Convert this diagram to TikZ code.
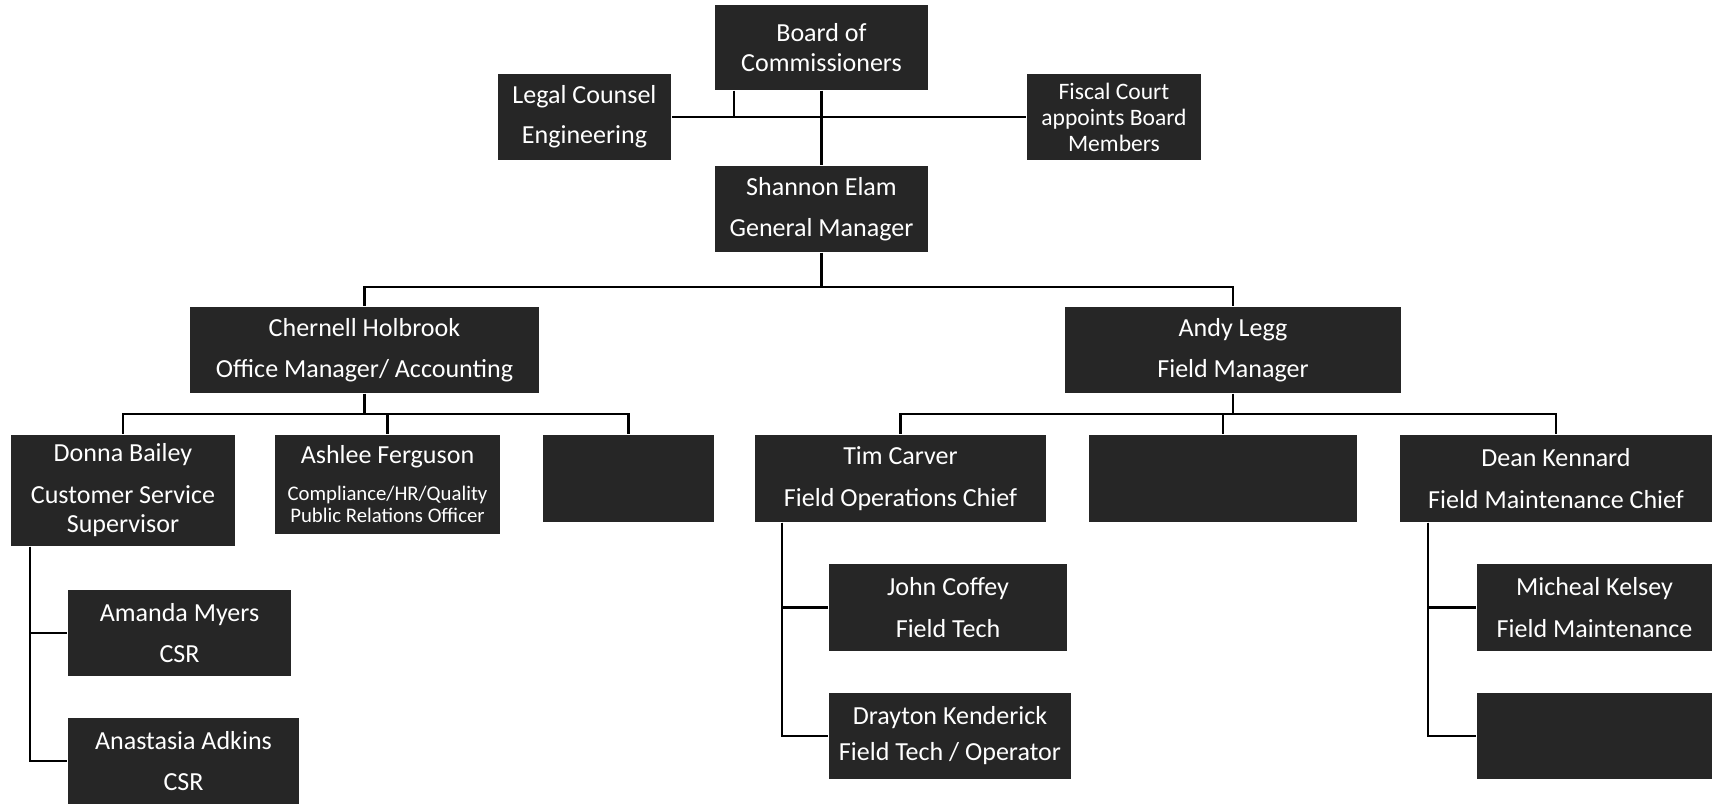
\documentclass[tikz,border=0pt]{standalone}
\usepackage{fontspec}
\setmainfont{Carlito}
\newcommand\smalltitle{\fontsize{5.9}{6.5}\selectfont}
\begin{document}
\begin{tikzpicture}
    [
    x=0.01cm,y=-0.01cm,
    post/.style={rectangle,fill=black!85,text=white,inner sep=0pt,align=center,font=\fontsize{7.4}{8.4}\selectfont},
    link/.style={line width=0.6pt}
    ]
    \useasboundingbox (0,0) rectangle (1712,804);
    \node (board) at (821.5,47.5) [post,minimum width=2.13cm,minimum height=0.85cm] {Board of\\Commissioners};
    \node (legal) at (584.5,117) [post,minimum width=1.73cm,minimum height=0.86cm] {Legal Counsel\\[3pt]Engineering};
    \node (fiscal) at (1114,117) [post,minimum width=1.74cm,minimum height=0.86cm,font=\fontsize{6.7}{7.4}\selectfont] {Fiscal Court\\appoints Board\\Members};
    \node (gm) at (821.5,209) [post,minimum width=2.13cm,minimum height=0.86cm] {Shannon Elam\\[3.4pt]General Manager};
    \node (office) at (364.5,350) [post,minimum width=3.49cm,minimum height=0.86cm] {Chernell Holbrook\\[3.4pt]Office Manager/ Accounting};
    \node (field) at (1233,350) [post,minimum width=3.36cm,minimum height=0.86cm] {Andy Legg\\[3.4pt]Field Manager};
    \node (donna) at (123,490.5) [post,minimum width=2.24cm,minimum height=1.11cm] {Donna Bailey\\[3.4pt]Customer Service\\Supervisor};
    \node (ashlee) at (387.5,484.5) [post,minimum width=2.25cm,minimum height=0.99cm] {Ashlee Ferguson\\[2pt]{\smalltitle Compliance/HR/Quality}\\[-2pt]{\smalltitle Public Relations Officer}};
    \node (vacant1) at (628.5,478.5) [post,minimum width=1.71cm,minimum height=0.87cm] {};
    \node (tim) at (900.5,478.5) [post,minimum width=2.91cm,minimum height=0.87cm] {Tim Carver\\[3.4pt]Field Operations Chief};
    \node (vacant2) at (1223,478.5) [post,minimum width=2.68cm,minimum height=0.87cm] {};
    \node (dean) at (1556,478.5) [post,minimum width=3.12cm,minimum height=0.87cm] {Dean Kennard\\[3.4pt]Field Maintenance Chief};
    \node (amanda) at (179.5,633) [post,minimum width=2.23cm,minimum height=0.86cm] {Amanda Myers\\[3.4pt]CSR};
    \node (anastasia) at (183.5,761) [post,minimum width=2.31cm,minimum height=0.86cm] {Anastasia Adkins\\[3.4pt]CSR};
    \node (john) at (948,607.5) [post,minimum width=2.38cm,minimum height=0.87cm] {John Coffey\\[3.4pt]Field Tech};
    \node (drayton) at (950,736) [post,minimum width=2.42cm,minimum height=0.86cm] {Drayton Kenderick\\[1.8pt]Field Tech / Operator};
    \node (micheal) at (1594.5,607.5) [post,minimum width=2.35cm,minimum height=0.87cm] {Micheal Kelsey\\[3.4pt]Field Maintenance};
    \node (vacant3) at (1594.5,736) [post,minimum width=2.35cm,minimum height=0.86cm] {};
    \draw [link] (board.south) -- (gm.north);
    \draw [link] (legal.east) -- (fiscal.west);
    \draw [link] ([xshift=-0.875cm]board.south) |- (legal.east);
    \draw [link] (gm.south) -- ++(0,34) -| (office.north);
    \draw [link] (gm.south) ++(0,34) -| (field.north);
    \draw [link] (office.south) -- ++(0,20) -| (donna.north);
    \draw [link] (office.south) ++(0,20) -| (ashlee.north);
    \draw [link] (office.south) ++(0,20) -| (vacant1.north);
    \draw [link] (field.south) -- ++(0,20) -| (tim.north);
    \draw [link] (field.south) ++(0,20) -| (vacant2.north);
    \draw [link] (field.south) ++(0,20) -| (dean.north);
    \draw [link] ([xshift=0.2cm]donna.south west) |- (amanda.west);
    \draw [link] ([xshift=0.2cm]donna.south west) |- (anastasia.west);
    \draw [link] ([xshift=0.28cm]tim.south west) |- (john.west);
    \draw [link] ([xshift=0.28cm]tim.south west) |- (drayton.west);
    \draw [link] ([xshift=0.29cm]dean.south west) |- (micheal.west);
    \draw [link] ([xshift=0.29cm]dean.south west) |- (vacant3.west);
  \end{tikzpicture}
\end{document}
